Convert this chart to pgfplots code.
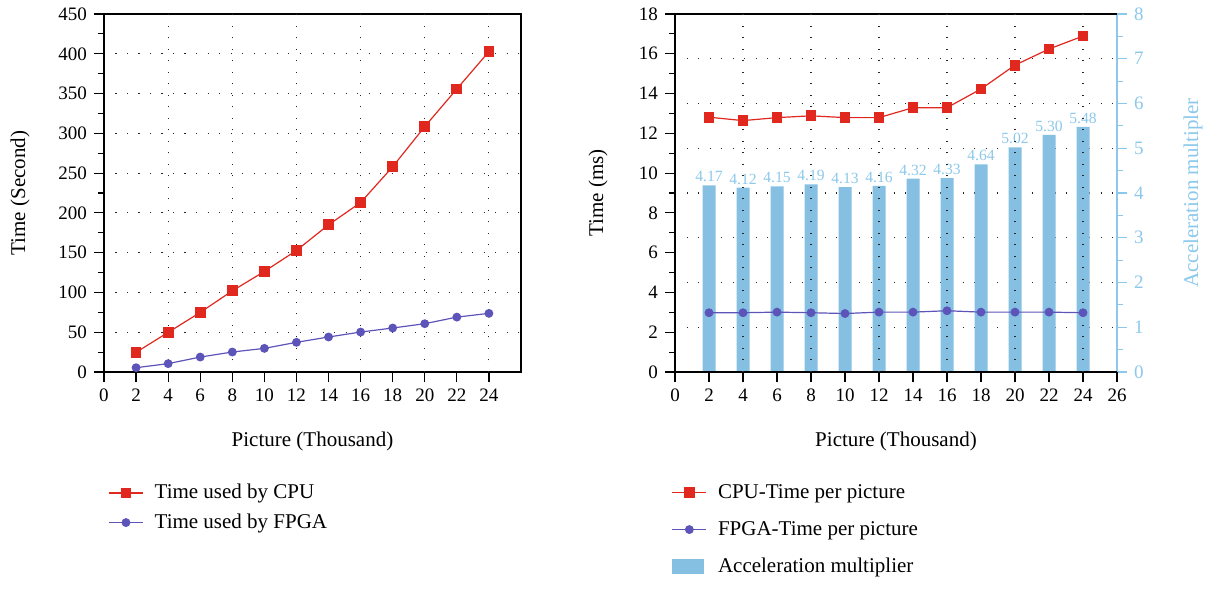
\documentclass[border=0pt]{standalone}
\usepackage{pgfplots}
\pgfplotsset{compat=1.18}
\usepackage{fontspec}
\setmainfont{Liberation Serif}

\definecolor{cpured}{RGB}{224,40,30}
\definecolor{fpgablue}{RGB}{92,84,184}
\definecolor{barblue}{RGB}{133,192,227}
\definecolor{axblue}{RGB}{140,200,235}

\pgfplotsset{
  base/.style={
    scale only axis, height=179pt,
    /pgf/number format/assume math mode=true,
    tick label style={font=\fontsize{9.5}{10}\selectfont},
    label style={font=\fontsize{10.5}{12}\selectfont},
    axis line style={black, line width=0.6pt},
    tick style={black, line width=0.6pt},
    tick align=outside,
    major tick length=5pt, minor tick length=2.8pt,
    grid style={black!85, line width=0.55pt, dash pattern=on 0.55pt off 5.2pt},
    legend style={draw=none, fill=none, font=\fontsize{10.5}{12}\selectfont,
      anchor=north west, cells={anchor=west}, nodes={inner xsep=5.5pt}},
  },
  cpu/.style={cpured, line width=0.6pt, mark=square*, mark size=2.4pt, mark options={solid}},
  fpga/.style={fpgablue, line width=0.6pt, mark=*, mark size=1.9pt},
}

\begin{document}
\begin{tikzpicture}
\useasboundingbox (-52pt,-121pt) rectangle (552.5pt,186pt);

% (a)
\begin{axis}[base, width=208.5pt, at={(0,0)},
  xmin=0, xmax=26, ymin=0, ymax=450,
  xtick={0,2,...,24}, ytick={0,50,...,450}, minor ytick={25,75,...,425},
  xtick pos=bottom, ytick pos=left,
  ymajorgrids=true,
  extra x ticks={4,8,...,24}, extra x tick labels={},
  extra x tick style={grid=major, major tick length=0pt},
  xlabel={Picture (Thousand)}, ylabel={Time (Second)},
  xlabel style={at={(axis description cs:0.5,-0.193)}, anchor=center},
  ylabel style={at={(axis description cs:-0.201,0.5)}, anchor=center},
  legend style={at={(axis description cs:-0.005,-0.29)}, row sep=2pt},
]
\addplot[cpu] coordinates {
(2,24.7) (4,49.8) (6,74.9) (8,102) (10,126.4) (12,152.8)
(14,185) (16,213) (18,258) (20,308.5) (22,355.8) (24,402.7)
};
\addlegendentry{Time used by CPU}
\addplot[fpga] coordinates {
(2,5.4) (4,10.5) (6,18.8) (8,25.1) (10,29.7) (12,37.3)
(14,44) (16,50.2) (18,55.3) (20,60.7) (22,69) (24,73.7)
};
\addlegendentry{Time used by FPGA}
\node[font=\fontsize{10.5}{12}\selectfont] at (axis description cs:0.422,-0.64) {(a)};
\end{axis}

% (b) bars on the right-hand axis
\begin{axis}[base, width=221pt, at={(285.5pt,0)},
  xmin=0, xmax=26, ymin=0, ymax=8,
  axis x line=none, axis y line*=right,
  y axis line style={axblue}, ytick style={axblue},
  yticklabel style={axblue},
  ytick={0,1,...,8}, minor ytick={0.5,1.5,...,7.5},
  ymajorgrids=true,
  ylabel={Acceleration multipler},
  ylabel style={axblue, at={(axis description cs:1.172,0.5)}, anchor=center},
]
\addplot[ybar, bar width=6.5pt, fill=barblue, draw=none,
  point meta=explicit symbolic, nodes near coords,
  nodes near coords style={axblue, font=\fontsize{7.8}{9}\selectfont, inner sep=1.5pt}]
coordinates {
(2,4.17)[4.17] (4,4.12)[4.12] (6,4.15)[4.15] (8,4.19)[4.19] (10,4.13)[4.13] (12,4.16)[4.16]
(14,4.32)[4.32] (16,4.33)[4.33] (18,4.64)[4.64] (20,5.02)[5.02] (22,5.30)[5.30] (24,5.48)[5.48]
};
\end{axis}

% (b) lines on the left-hand axis
\begin{axis}[base, width=221pt, at={(285.5pt,0)},
  xmin=0, xmax=26, ymin=0, ymax=18,
  axis x line*=box, axis y line*=left,
  xtick={0,2,...,26}, ytick={0,2,...,18}, minor ytick={1,3,...,17},
  xtick pos=bottom,
  extra x ticks={4,8,...,24}, extra x tick labels={},
  extra x tick style={grid=major, major tick length=0pt},
  xlabel={Picture (Thousand)}, ylabel={Time (ms)},
  xlabel style={at={(axis description cs:0.5,-0.193)}, anchor=center},
  ylabel style={at={(axis description cs:-0.174,0.5)}, anchor=center},
  legend style={at={(axis description cs:-0.022,-0.29)}, row sep=6pt},
]
\addplot[cpu] coordinates {
(2,12.81) (4,12.64) (6,12.79) (8,12.88) (10,12.79) (12,12.79)
(14,13.29) (16,13.29) (18,14.23) (20,15.43) (22,16.24) (24,16.89)
};
\addlegendentry{CPU-Time per picture}
\addplot[fpga] coordinates {
(2,2.98) (4,2.98) (6,3.01) (8,2.98) (10,2.94) (12,3.01)
(14,3.01) (16,3.08) (18,3.01) (20,3.01) (22,3.01) (24,2.98)
};
\addlegendentry{FPGA-Time per picture}
\addlegendimage{area legend, fill=barblue, draw=none,
  legend image code/.code={\fill[barblue] (0pt,-3.7pt) rectangle (16pt,3.7pt);}}
\addlegendentry{Acceleration multiplier}
\node[font=\fontsize{10.5}{12}\selectfont] at (axis description cs:0.423,-0.64) {(b)};
\end{axis}
\end{tikzpicture}
\end{document}
